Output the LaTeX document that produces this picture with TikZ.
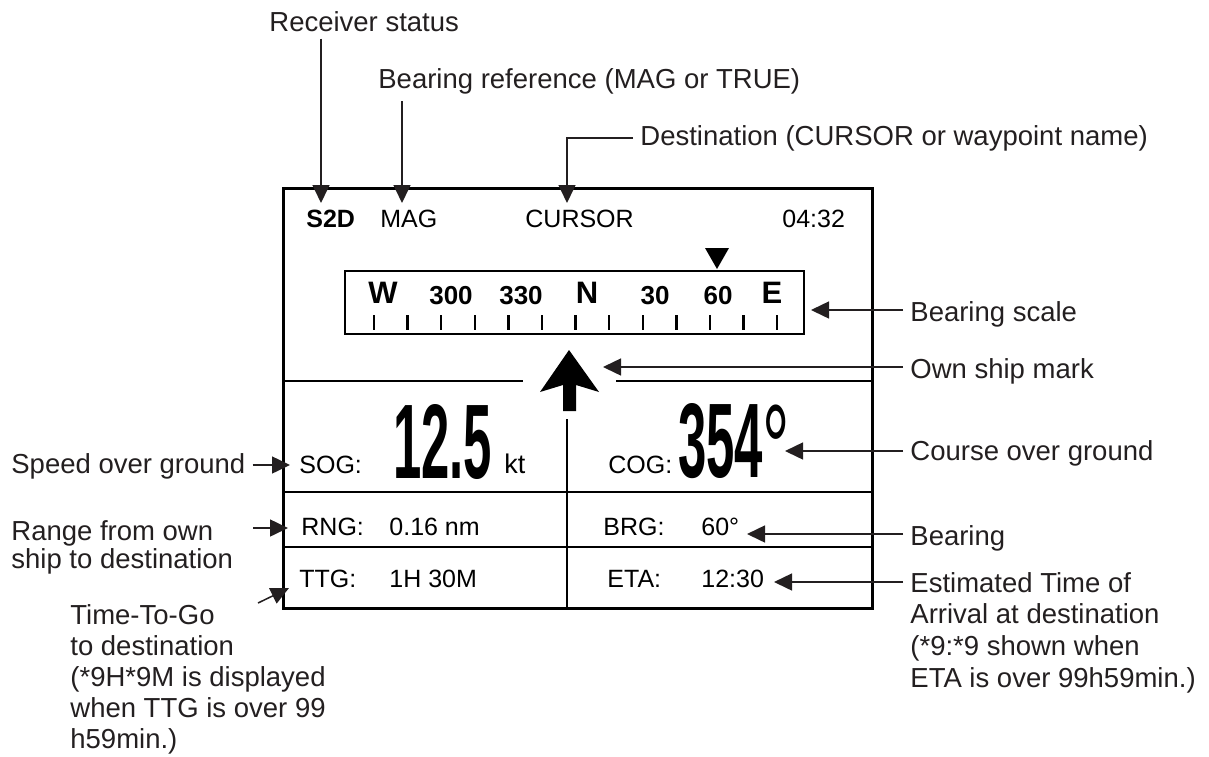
\documentclass[tikz,border=0pt]{standalone}
\usepackage{fontspec}
\setmainfont{Liberation Sans}
\usepackage{xcolor}
\usepackage{tikz}
\usetikzlibrary{arrows.meta}
\definecolor{ink}{RGB}{35,31,32}
\tikzset{
	lbl/.style={inner xsep=3.5pt,inner ysep=3.5pt,text=ink,font=\fontsize{13.75}{15.8}\selectfont},
	scr/.style={inner sep=0pt,anchor=base west,font=\fontsize{12.5}{14}\selectfont},
	scl/.style={inner sep=0pt,anchor=base,font=\bfseries\fontsize{13}{14}\selectfont},
	dir/.style={inner sep=0pt,anchor=base,font=\bfseries\fontsize{15.5}{16}\selectfont},
	big/.style={inner sep=0pt,anchor=base west,xscale=0.48,font=\bfseries\fontsize{53}{60}\selectfont},
	lead/.style={draw=ink,line width=0.75pt,-{Triangle[length=9pt,width=8.5pt]}}
}
\begin{document}
\begin{tikzpicture}[x=0.5pt,y=-0.5pt]
	\useasboundingbox (0,0) rectangle (1209,756);
	\draw[line width=1.5pt] (283,188) rectangle (872,608);
	\draw[line width=1pt] (345,271) rectangle (804,334);
	\foreach \i in {0,...,12}
		\draw[line width=1.2pt] ({374+33.6*\i},315) -- ++(0,15);
	\fill (705,248) -- (729,248) -- (717,269) -- cycle;
	\fill (569,350) -- (599,392) -- (576,385) -- (576,411) -- (563,411) -- (563,385) -- (540,392) -- cycle;
	\draw[line width=0.6pt] (283,381) -- (523,381) (616,381) -- (872,381);
	\draw[line width=1pt] (567,419) -- (567,608);
	\draw[line width=1pt] (283,492) -- (872,492) (283,547) -- (872,547);
	\node[scr,font=\bfseries\fontsize{12.5}{14}\selectfont] (s2d) at (306,227) {S2D};
	\node[scr] (mag) at (380,227) {MAG};
	\node[scr] (cursor) at (525,227) {CURSOR};
	\node[scr] (clock) at (782,227) {04:32};
	\node[dir] (w) at (383,303) {W};
	\node[scl] (s300) at (451,304) {300};
	\node[scl] (s330) at (521,304) {330};
	\node[dir] (n) at (587,303) {N};
	\node[scl] (s30) at (655,304) {30};
	\node[scl] (s60) at (718,304) {60};
	\node[dir] (e) at (772,303) {E};
	\node[scr] (sog) at (299,473) {SOG:};
	\node[big] (speed) at (393,478) {12.5};
	\node[scr,font=\fontsize{13.5}{14}\selectfont] (kt) at (504,473) {kt};
	\node[scr] (cog) at (608,473) {COG:};
	\node[big] (course) at (678,477) {354};
	\node[big,xscale=1.15,font=\fontsize{62}{70}\selectfont] (deg) at (762,491) {°};
	\node[scr] (rng) at (301,535) {RNG:};
	\node[scr] (rngval) at (389,535) {0.16 nm};
	\node[scr] (brg) at (603,535) {BRG:};
	\node[scr] (brgval) at (701,535) {60°};
	\node[scr] (ttg) at (299,587) {TTG:};
	\node[scr] (ttgval) at (389,587) {1H 30M};
	\node[scr] (eta) at (607,587) {ETA:};
	\node[scr] (etaval) at (701,587) {12:30};
	\node[lbl,anchor=base west] (recvlbl) at (262,31) {Receiver status};
	\node[lbl,anchor=base west] (breflbl) at (371,88) {Bearing reference (MAG or TRUE)};
	\node[lbl,anchor=base west] (dstlbl) at (633,145) {Destination (CURSOR or waypoint name)};
	\node[lbl,anchor=base west] (scalelbl) at (903,321) {Bearing scale};
	\node[lbl,anchor=base west] (ownlbl) at (903,378) {Own ship mark};
	\node[lbl,anchor=base west] (coglbl) at (903,460) {Course over ground};
	\node[lbl,anchor=base west] (brglbl) at (903,545) {Bearing};
	\node[lbl,anchor=north west,align=left] (etalbl) at (903,565) {Estimated Time of\\Arrival at destination\\(*9:*9 shown when\\ETA is over 99h59min.)};
	\node[lbl,anchor=base west] (soglbl) at (4,473) {Speed over ground};
	\node[lbl,anchor=north west,align=left,font=\fontsize{13.75}{14}\selectfont] (rnglbl) at (4,513) {Range from own\\ship to destination};
	\node[lbl,anchor=north west,align=left,font=\fontsize{13.75}{15.5}\selectfont] (ttglbl) at (63,597) {Time-To-Go\\to destination\\(*9H*9M is displayed\\when TTG is over 99\\h59min.)};
	\coordinate (s2dtip) at (321,203);
	\coordinate (magtip) at (402,203);
	\coordinate (cursortip) at (567,203);
	\coordinate (scaletip) at (811,310);
	\coordinate (owntip) at (603,367);
	\coordinate (cogtip) at (785,451);
	\coordinate (brgtip) at (747,534);
	\coordinate (etatip) at (774,582);
	\coordinate (sogtip) at (290,465);
	\coordinate (rngtip) at (288,528);
	\coordinate (rngfrom) at (253,528);
	\coordinate (ttgtip) at (289,588);
	\coordinate (ttgfrom) at (258,603);
	\draw[lead] (recvlbl.south -| s2dtip) -- (s2dtip);
	\draw[lead] (breflbl.south -| magtip) -- (magtip);
	\draw[lead] (dstlbl.west) -| (cursortip);
	\draw[lead] (scalelbl.west |- scaletip) -- (scaletip);
	\draw[lead] (ownlbl.west |- owntip) -- (owntip);
	\draw[lead] (coglbl.west |- cogtip) -- (cogtip);
	\draw[lead] (brglbl.west |- brgtip) -- (brgtip);
	\draw[lead] (etalbl.west |- etatip) -- (etatip);
	\draw[lead] (soglbl.east |- sogtip) -- (sogtip);
	\draw[lead] (rngfrom) -- (rngtip);
	\draw[lead] (ttgfrom) -- (ttgtip);
\end{tikzpicture}
\end{document}
